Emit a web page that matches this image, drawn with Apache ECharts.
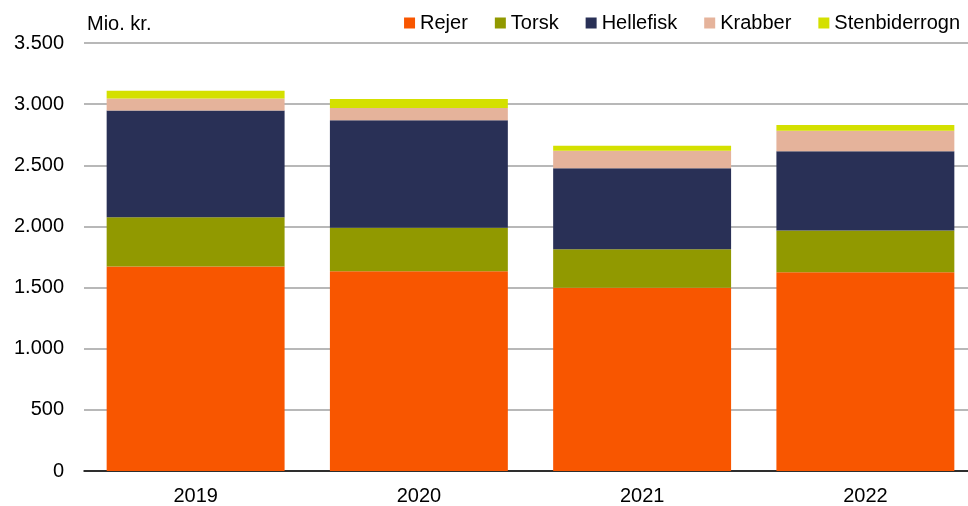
<!DOCTYPE html>
<html>
<head>
<meta charset="utf-8">
<script src="https://cdn.jsdelivr.net/npm/echarts@6/dist/echarts.min.js"></script>
<style>
  html, body { margin: 0; padding: 0; background: #fff; overflow: hidden; }
  /* a bit wider than the window: the plot area in the original runs past the right edge */
  #chart { width: 977px; height: 506px; }
</style>
</head>
<body>
<div id="chart"></div>
<script>
const years = ['2019', '2020', '2021', '2022']
const rejer = [1672, 1634, 1498, 1626]
const torsk = [403, 356, 316, 340]
const hellefisk = [874, 878, 661, 648]
const krabber = [98, 100, 144, 169]
const stenbiderrogn = [63, 74, 41, 46]

const colors = ['#F85600', '#919900', '#293056', '#E5B39B', '#D4E000']

const myChart = echarts.init(document.getElementById('chart'))

function bar(name, data) {
  return { name: name, type: 'bar', stack: 'total', barCategoryGap: '20.3%', data: data }
}

myChart.setOption({
  animation: false,
  color: colors,
  textStyle: { fontFamily: 'Liberation Sans, Arial, sans-serif' },
  title: {
    text: 'Mio. kr.',
    left: 82,
    top: 9,
    textStyle: { fontSize: 20, fontWeight: 'normal', color: '#000' }
  },
  legend: {
    right: 12,
    top: 8,
    itemWidth: 11,
    itemHeight: 11,
    itemGap: 27,
    icon: 'rect',
    textStyle: { fontSize: 20, color: '#000' },
    data: ['Rejer', 'Torsk', 'Hellefisk', 'Krabber', 'Stenbiderrogn']
  },
  grid: { left: 84, right: 0, top: 43, bottom: 35, containLabel: false },
  xAxis: {
    type: 'category',
    data: years,
    axisLine: { lineStyle: { color: '#000', width: 1.5 } },
    axisTick: { show: false },
    axisLabel: { fontSize: 20, color: '#000', margin: 15 }
  },
  yAxis: {
    type: 'value',
    min: 0,
    max: 3500,
    interval: 500,
    axisLine: { show: false },
    axisTick: { show: false },
    axisLabel: {
      fontSize: 20,
      color: '#000',
      margin: 20,
      formatter: v => v.toLocaleString('da-DK')
    },
    splitLine: { lineStyle: { color: '#a0a0a0', width: 1.5 } }
  },
  series: [
    bar('Rejer', rejer),
    bar('Torsk', torsk),
    bar('Hellefisk', hellefisk),
    bar('Krabber', krabber),
    bar('Stenbiderrogn', stenbiderrogn)
  ]
})
</script>
</body>
</html>
